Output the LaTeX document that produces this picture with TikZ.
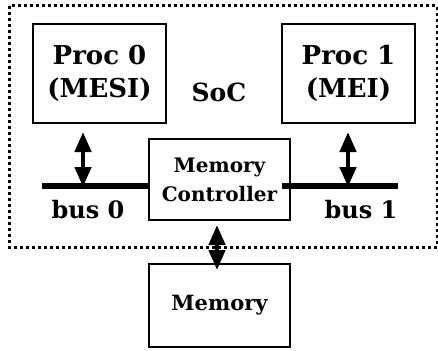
\documentclass[tikz,border=0pt]{standalone}
\usepackage{fontspec}
\setmainfont{DejaVu Serif}
\usetikzlibrary{arrows.meta,positioning}

\tikzset{
  box/.style={draw,line width=1.4pt,inner sep=0pt,align=center,font=\bfseries},
  bus/.style={line width=6pt},
  link/.style={line width=4.5pt,{Triangle[length=20pt,width=16pt]}-{Triangle[length=20pt,width=16pt]}},
  socline/.style={line width=3pt,dash pattern=on 3pt off 3pt}
}

\begin{document}
\begin{tikzpicture}[x=1pt,y=-1pt]
            \useasboundingbox (0,0) rectangle (438,350);
            % chip boundary
            \draw[socline] (9,6) rectangle (437,247);
            \node[font=\bfseries\fontsize{25}{30}\selectfont] (soc) at (219,92) {SoC};
            % processors
            \node[box,minimum width=133pt,minimum height=99pt,
                  font=\bfseries\fontsize{26}{33}\selectfont] (proc0) at (99.5,73.5) {Proc 0\\(MESI)};
            \node[box,minimum width=133pt,minimum height=99pt,
                  font=\bfseries\fontsize{26}{33}\selectfont] (proc1) at (348.5,73.5) {Proc 1\\(MEI)};
            % memory side
            \node[box,text width=141pt,minimum height=81pt,
                  font=\bfseries\fontsize{20}{29}\selectfont] (mc) at (219.5,179.5) {Memory\\Controller};
            \node[box,minimum width=141pt,minimum height=83pt,
                  font=\bfseries\fontsize{21}{26}\selectfont] (mem) at (219.5,305.5) {Memory};
            % buses
            \coordinate (bus0w) at (42,186);
            \coordinate (bus1w) at (282,186);
            \coordinate (bus1e) at (398,186);
            \draw[bus] (bus0w) -- (bus0w -| mc.west);
            \draw[bus] (bus1w) -- (bus1e);
            \node[font=\bfseries\fontsize{24}{28}\selectfont] (bus0) at (88,210) {bus 0};
            \node[font=\bfseries\fontsize{24}{28}\selectfont] (bus1) at (361,210) {bus 1};
            % links
            \coordinate (p0top) at (83,132);
            \coordinate (p0bot) at (83,187);
            \coordinate (p1top) at (348,132);
            \coordinate (p1bot) at (348,187);
            \coordinate (mctop) at (217,225);
            \coordinate (mcbot) at (217,270);
            \draw[link] (p0top) -- (p0bot);
            \draw[link] (p1top) -- (p1bot);
            \draw[link] (mctop) -- (mcbot);
          \end{tikzpicture}
\end{document}
